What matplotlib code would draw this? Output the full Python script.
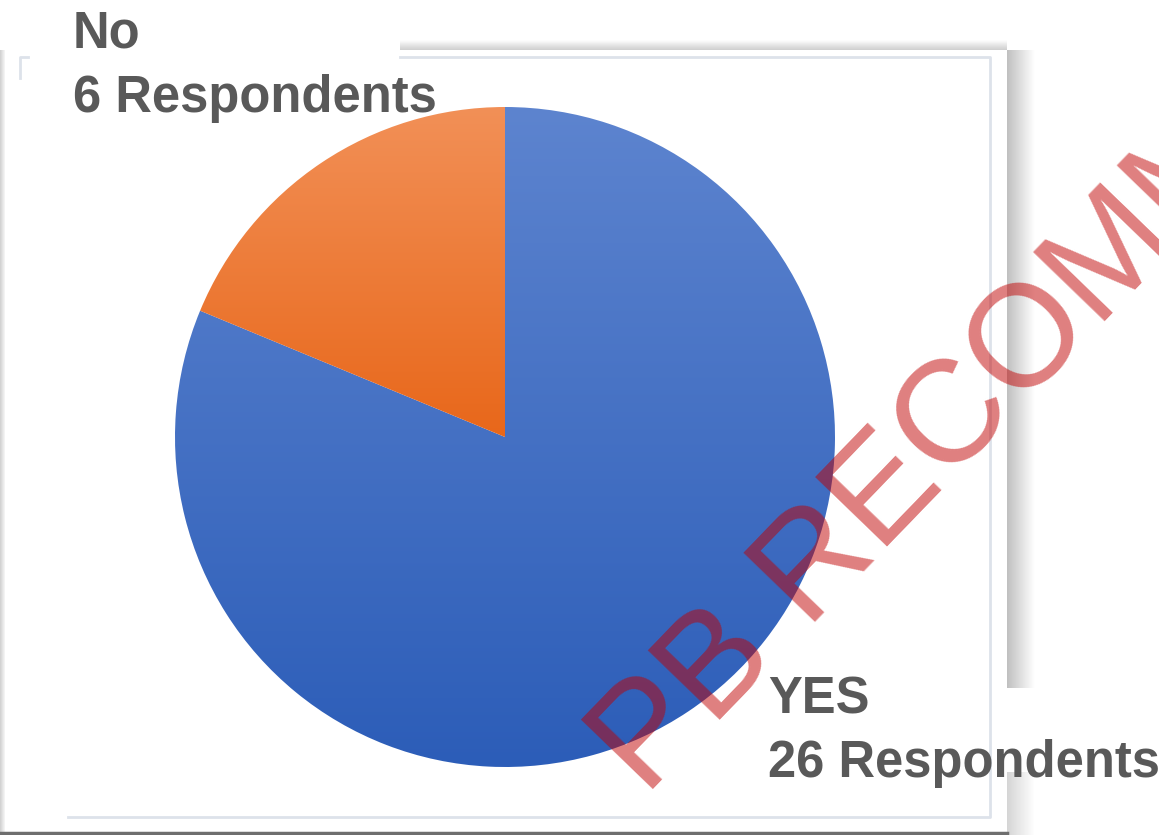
import matplotlib.pyplot as plt
import numpy as np
from matplotlib.colors import LinearSegmentedColormap

W, H = 1159, 835

labels = ["YES", "No"]
counts = [26, 6]
label_lines = ["26 Respondents", "6 Respondents"]

# gradient colours (top, bottom) for each slice
grads = [("#5d84cf", "#2c5db8"), ("#f29057", "#e8671a")]
text_col = "#595959"

fig = plt.figure(figsize=(W / 100, H / 100), dpi=100)

# background / screenshot card in pixel coordinates
bg = fig.add_axes([0, 0, 1, 1])
bg.set_xlim(0, W)
bg.set_ylim(H, 0)
bg.axis("off")


def shade(x0, x1, y0, y1, horiz, a0, a1, gray=0.45):
    n = 64
    ramp = np.linspace(a0, a1, n)
    arr = np.zeros((1, n, 4)) if horiz else np.zeros((n, 1, 4))
    arr[..., :3] = gray
    arr[..., 3] = ramp.reshape(arr.shape[:2])
    bg.imshow(arr, extent=(x0, x1, y1, y0), aspect="auto", interpolation="bilinear", zorder=1)


# card shadows
shade(1007, 1035, 50, 688, True, 0.45, 0.0)
shade(1007, 1035, 772, 835, True, 0.3, 0.0)
shade(0, 5, 50, 835, True, 0.35, 0.05)
shade(400, 1007, 40, 50, False, 0.0, 0.35)
bg.plot([0, 1007], [833, 833], color="#6e6e6e", lw=2.5, zorder=2)
bg.set_xlim(0, W)
bg.set_ylim(H, 0)

# inner chart frame (only the parts not covered by label boxes)
fc = "#dde2ea"
bg.plot([20, 20, 28], [78, 57, 57], color=fc, lw=2, zorder=2)
bg.plot([400, 990, 990, 68], [57, 57, 817, 817], color=fc, lw=2, zorder=2)

# pie
cx, cy, r = 505, 437, 330
pa = fig.add_axes([(cx - r) / W, (H - cy - r) / H, 2 * r / W, 2 * r / H])
wedges, _ = pa.pie(counts, startangle=90, counterclock=False, radius=1,
                   wedgeprops=dict(linewidth=0))
pa.set_xlim(-1, 1)
pa.set_ylim(-1, 1)
pa.set_aspect("equal")
pa.axis("off")

for w, (ctop, cbot) in zip(wedges, grads):
    w.set_facecolor("none")
    bb = w.get_path().get_extents(w.get_patch_transform())
    cmap = LinearSegmentedColormap.from_list("g", [cbot, ctop])
    grad = np.linspace(1, 0, 256).reshape(-1, 1)
    im = pa.imshow(grad, cmap=cmap, vmin=0, vmax=1, aspect="auto",
                   extent=(bb.x0, bb.x1, bb.y0, bb.y1), zorder=1)
    im.set_clip_path(w)
pa.set_xlim(-1, 1)
pa.set_ylim(-1, 1)

# watermark
fig.text(645 / W, 1 - 797 / H, "PB RECOMMENDED", fontsize=104, family="Liberation Sans",
         color="#c00000", alpha=0.5, rotation=46, rotation_mode="anchor",
         ha="left", va="baseline", zorder=5)

# labels
lab_font = dict(fontsize=36.5, fontweight="bold", family="Liberation Sans", color=text_col,
                ha="left", va="baseline", zorder=6)
fig.text(768 / W, 1 - 713 / H, labels[0], **lab_font)
fig.text(768 / W, 1 - 777 / H, label_lines[0], **lab_font)
fig.text(73 / W, 1 - 48 / H, labels[1], **lab_font)
fig.text(73 / W, 1 - 112 / H, label_lines[1], **lab_font)

fig.savefig("out.png", dpi=100, facecolor="white")
